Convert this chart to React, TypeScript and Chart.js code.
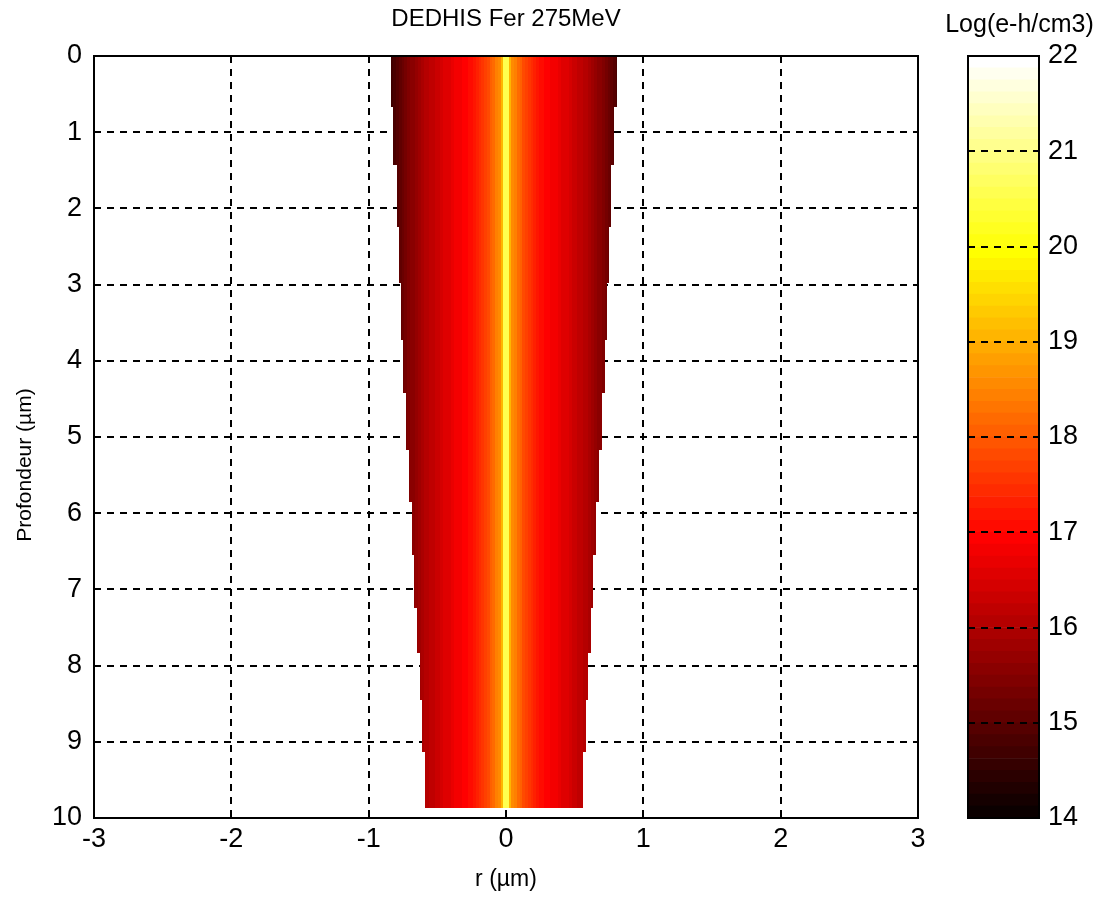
import React, { useEffect, useRef } from "react";
import { Chart, registerables } from "chart.js";

Chart.register(...registerables);

// ---------- data ----------
const chartTitle = "DEDHIS Fer 275MeV";
const xLabel = "r (µm)";
const yLabel = "Profondeur (µm)";
const colorbarLabel = "Log(e-h/cm3)";

const xRange = [-3, 3];
const yRange = [0, 10];
const cLim = [14, 22];
const nColors = 64;

// radial cell centres (µm) and log10 density at these radii
const radius = [
  0.01, 0.03, 0.05, 0.07, 0.09, 0.11, 0.13, 0.15, 0.17, 0.19, 0.21, 0.23, 0.25, 0.27, 0.29,
  0.31, 0.33, 0.35, 0.37, 0.39, 0.41, 0.43, 0.45, 0.47, 0.49, 0.51, 0.53, 0.55, 0.57, 0.59,
  0.61, 0.63, 0.65, 0.67, 0.69, 0.71, 0.73, 0.75, 0.77, 0.79, 0.81, 0.83, 0.85,
];
const density = [
  20.5, 19.0, 18.6, 18.4, 18.2, 18.0, 17.85, 17.7, 17.55, 17.45, 17.3, 17.2, 17.1, 17.05, 16.95,
  16.9, 16.85, 16.8, 16.75, 16.7, 16.6, 16.55, 16.5, 16.4, 16.35, 16.3, 16.2, 16.15, 16.1, 16.0,
  15.9, 15.8, 15.7, 15.6, 15.5, 15.4, 15.3, 15.2, 15.1, 14.95, 14.85, 14.7, 14.6,
];

// depth slices (µm) and the track extent in each slice
const depthBounds = [0, 0.67, 1.43, 2.24, 2.98, 3.73, 4.42, 5.17, 5.85, 6.55, 7.24, 7.83, 8.45, 9.13, 9.87];
const trackLeft = [-0.837, -0.82, -0.796, -0.78, -0.768, -0.75, -0.728, -0.706, -0.684, -0.67, -0.648, -0.626, -0.612, -0.59];
const trackRight = [0.806, 0.789, 0.762, 0.75, 0.735, 0.72, 0.7, 0.68, 0.655, 0.636, 0.617, 0.6, 0.58, 0.563];

// ---------- colormap (MATLAB "hot") ----------
function hot(i: number): string {
  const r = i <= 24 ? i / 24 : 1;
  const g = i <= 24 ? 0 : i <= 48 ? (i - 24) / 24 : 1;
  const b = i <= 48 ? 0 : (i - 48) / 16;
  return `rgb(${Math.round(r * 255)},${Math.round(g * 255)},${Math.round(b * 255)})`;
}
function colorFor(v: number): string {
  let idx = Math.floor(((v - cLim[0]) / (cLim[1] - cLim[0])) * nColors) + 1;
  idx = Math.max(1, Math.min(nColors, idx));
  return hot(idx);
}

const FONT = "'Liberation Sans', Arial, Helvetica, sans-serif";
const DASH = [7, 6];

const heatmapPlugin = {
  id: "heatmap",
  beforeDatasetsDraw(chart: any) {
    const { ctx, scales } = chart;
    const x = scales.x;
    const y = scales.y;
    const half = (radius[1] - radius[0]) / 2;
    ctx.save();
    for (let i = 0; i < trackLeft.length; i++) {
      const y0 = Math.round(y.getPixelForValue(depthBounds[i]));
      const y1 = Math.round(y.getPixelForValue(depthBounds[i + 1]));
      for (const side of [-1, 1]) {
        for (let j = 0; j < radius.length; j++) {
          const c = side * radius[j];
          let lo = c - half;
          let hi = c + half;
          lo = Math.max(lo, trackLeft[i]);
          hi = Math.min(hi, trackRight[i]);
          if (hi <= lo) continue;
          const x0 = Math.round(x.getPixelForValue(lo));
          const x1 = Math.round(x.getPixelForValue(hi));
          if (x1 <= x0) continue;
          ctx.fillStyle = colorFor(density[j]);
          ctx.fillRect(x0, y0, x1 - x0, y1 - y0);
        }
      }
    }
    ctx.restore();
  },
  afterDatasetsDraw(chart: any) {
    const { ctx, chartArea: a } = chart;
    ctx.save();
    ctx.strokeStyle = "#000";
    ctx.lineWidth = 2;
    ctx.setLineDash([]);
    ctx.strokeRect(a.left, a.top, a.right - a.left, a.bottom - a.top);
    ctx.restore();
  },
  afterDraw(chart: any) {
    const { ctx, chartArea: a } = chart;
    ctx.save();
    ctx.fillStyle = "#000";
    ctx.font = `21px ${FONT}`;
    ctx.textAlign = "center";
    ctx.textBaseline = "middle";
    ctx.translate(25, (a.top + a.bottom) / 2 + 28);
    ctx.rotate(-Math.PI / 2);
    ctx.fillText(yLabel, 0, 0);
    ctx.restore();
  },
};

const colorbarPlugin = {
  id: "colorbarDecor",
  afterDatasetsDraw(chart: any) {
    const { ctx, chartArea: a, scales } = chart;
    const y = scales.y;
    ctx.save();
    ctx.strokeStyle = "#000";
    ctx.lineWidth = 2;
    ctx.setLineDash(DASH);
    for (let v = cLim[0] + 1; v < cLim[1]; v++) {
      const py = Math.round(y.getPixelForValue(v));
      ctx.beginPath();
      ctx.moveTo(a.left, py);
      ctx.lineTo(a.right, py);
      ctx.stroke();
    }
    ctx.setLineDash([]);
    ctx.strokeRect(a.left, a.top, a.right - a.left, a.bottom - a.top);
    ctx.restore();
  },
  afterDraw(chart: any) {
    const { ctx, width } = chart;
    ctx.save();
    ctx.fillStyle = "#000";
    ctx.font = `25px ${FONT}`;
    ctx.textAlign = "center";
    ctx.textBaseline = "middle";
    ctx.fillText(colorbarLabel, width / 2, 25);
    ctx.restore();
  },
};

export default function App() {
  const mainRef = useRef<HTMLCanvasElement | null>(null);
  const cbRef = useRef<HTMLCanvasElement | null>(null);

  useEffect(() => {
    document.body.style.margin = "0";
    const mainChart = new Chart(mainRef.current as HTMLCanvasElement, {
      type: "scatter",
      data: { datasets: [{ data: [] }] },
      plugins: [heatmapPlugin],
      options: {
        animation: false,
        responsive: false,
        layout: { padding: { left: 0, right: 22, top: 0, bottom: 0 } },
        plugins: {
          legend: { display: false },
          tooltip: { enabled: false },
          title: {
            display: true,
            text: chartTitle,
            color: "#000",
            fullSize: false,
            font: { family: FONT, size: 24, weight: "normal" },
            padding: { top: 5, bottom: 22.2 },
          },
        },
        scales: {
          x: {
            type: "linear",
            min: xRange[0],
            max: xRange[1],
            ticks: { stepSize: 1, color: "#000", font: { family: FONT, size: 27 }, padding: 5, maxRotation: 0 },
            grid: { color: "#000", lineWidth: 2, drawTicks: false },
            border: { display: false, dash: DASH },
            title: { display: true, text: xLabel, color: "#000", font: { family: FONT, size: 23 }, padding: { top: 0, bottom: 8 } },
            afterFit: (s: any) => { s.height = 83; },
          },
          y: {
            type: "linear",
            reverse: true,
            min: yRange[0],
            max: yRange[1],
            ticks: { stepSize: 1, color: "#000", font: { family: FONT, size: 27 }, padding: 12 },
            grid: { color: "#000", lineWidth: 2, drawTicks: false },
            border: { display: false, dash: DASH },
            title: { display: false },
            afterFit: (s: any) => { s.width = 94; },
          },
        },
      } as any,
    });

    const levels: number[] = [];
    for (let k = 1; k <= nColors; k++) levels.push(k);
    const step = (cLim[1] - cLim[0]) / nColors;
    const cbChart = new Chart(cbRef.current as HTMLCanvasElement, {
      type: "bar",
      data: {
        labels: [""],
        datasets: levels.map((k) => ({
          data: [[cLim[0] + (k - 1) * step, cLim[0] + k * step]],
          backgroundColor: hot(k),
          borderWidth: 0,
          barPercentage: 1,
          categoryPercentage: 1,
          grouped: false,
        })),
      } as any,
      plugins: [colorbarPlugin],
      options: {
        animation: false,
        responsive: false,
        layout: { padding: { left: 28, right: 0, top: 56, bottom: 83 } },
        plugins: {
          legend: { display: false },
          tooltip: { enabled: false },
          title: { display: false },
        },
        scales: {
          x: { display: false },
          y: {
            position: "right",
            min: cLim[0],
            max: cLim[1],
            ticks: { stepSize: 1, color: "#000", font: { family: FONT, size: 27 }, padding: 9 },
            grid: { display: false, drawTicks: false },
            border: { display: false },
            afterFit: (s: any) => { s.width = 60; },
          },
        },
      } as any,
    });

    return () => {
      mainChart.destroy();
      cbChart.destroy();
    };
  }, []);

  return (
    <div style={{ position: "absolute", left: 0, top: 0, width: 1099, height: 901, background: "#fff" }}>
      <canvas ref={mainRef} width={940} height={901} style={{ position: "absolute", left: 0, top: 0 }} />
      <canvas ref={cbRef} width={159} height={901} style={{ position: "absolute", left: 940, top: 0 }} />
    </div>
  );
}
